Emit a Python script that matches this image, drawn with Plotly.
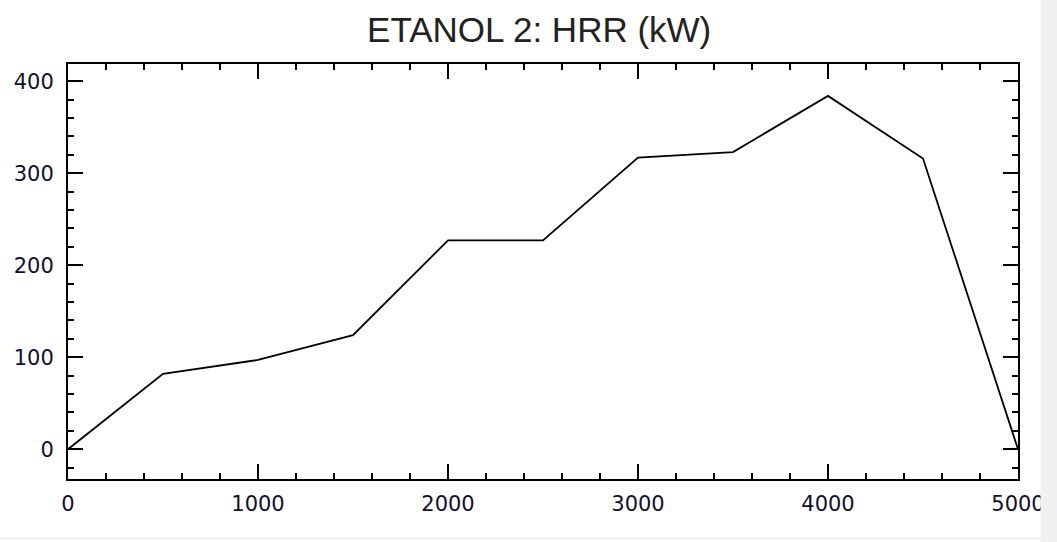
import plotly.graph_objects as go

time_s = [0, 500, 1000, 1500, 2000, 2500, 3000, 3500, 4000, 4500, 5000]
hrr_kw = [0, 82, 97, 124, 227, 227, 317, 323, 384, 316, 0]
title_text = "ETANOL 2: HRR (kW)"

fig = go.Figure()
fig.add_trace(go.Scatter(x=time_s, y=hrr_kw, mode="lines",
                         line=dict(color="black", width=1.8), showlegend=False))

axis_common = dict(
    showgrid=False, zeroline=False, showline=True, linecolor="black", linewidth=2,
    mirror="allticks", ticks="inside", ticklen=15, tickwidth=2, tickcolor="black",
    tickfont=dict(family="DejaVu Sans", size=21, color="#10102a"),
    minor=dict(ticks="inside", ticklen=6, tickwidth=2, tickcolor="black", showgrid=False),
)

fig.update_xaxes(range=[0, 5000], tickvals=[0, 1000, 2000, 3000, 4000, 5000],
                 minor_dtick=200, ticklabelstandoff=5, **axis_common)
fig.update_yaxes(range=[-32.4, 418.7], tickvals=[0, 100, 200, 300, 400],
                 minor_dtick=20, ticklabelstandoff=8, **axis_common)

fig.update_layout(
    width=1057, height=542,
    margin=dict(l=68, r=35, t=64, b=63),
    paper_bgcolor="white", plot_bgcolor="white",
    title=dict(text=title_text, x=0.496, xanchor="center", xref="paper",
               y=0.945, yanchor="middle", yref="container",
               font=dict(family="Liberation Sans", size=35, color="#222222")),
    shapes=[
        dict(type="rect", xref="paper", yref="paper", x0=1.0237, x1=1.05, y0=-0.2, y1=1.2,
             fillcolor="#f0f0f0", line=dict(width=0), layer="above"),
        dict(type="rect", xref="paper", yref="paper", x0=-0.1, x1=1.05, y0=-0.146, y1=-0.14,
             fillcolor="#f0f0f0", line=dict(width=0), layer="above"),
    ],
)

fig.write_html("out.html")
